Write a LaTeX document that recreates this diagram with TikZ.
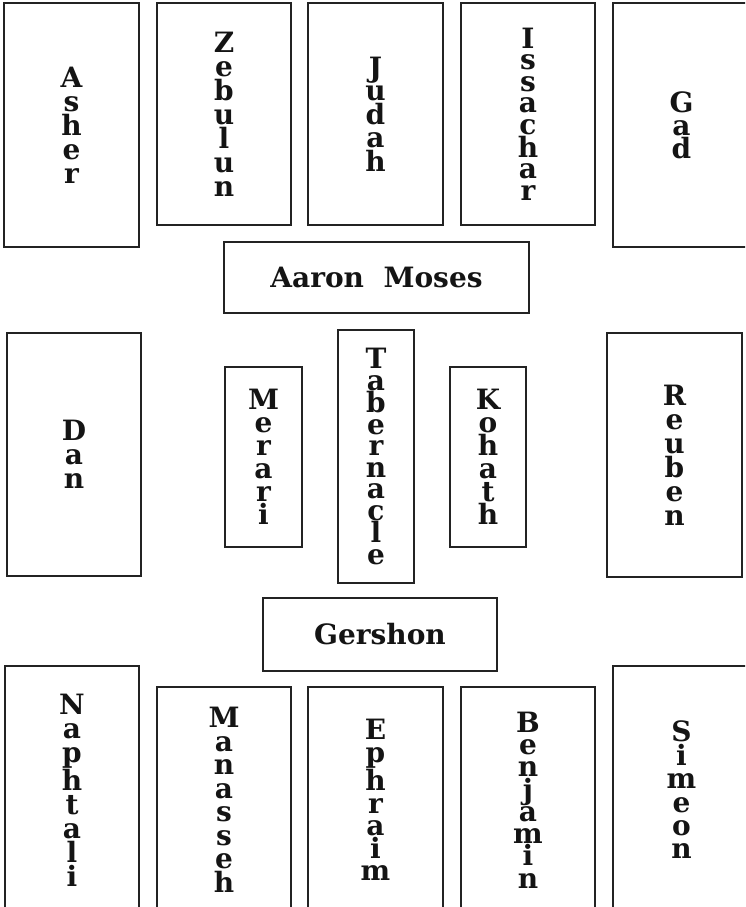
\documentclass[tikz,border=0pt]{standalone}
\usepackage{fontspec}
\setmainfont{DejaVu Serif}
\usetikzlibrary{positioning}
\definecolor{framecolor}{RGB}{35,35,35}
\definecolor{inkcolor}{RGB}{20,20,20}
\tikzset{
  camp/.style  = {draw=framecolor, line width=2.5pt, rectangle, align=center,
                  inner sep=0pt, text=inkcolor},
  letters/.style = {font=\fontsize{28}{#1}\selectfont\bfseries},
  letters/.default = 23.5,
}

\begin{document}
\begin{tikzpicture}[x=1pt, y=-1pt]
  \useasboundingbox (0,0) rectangle (745,907);
  \clip (0,0) rectangle (745,907);

  % the twelve tribes, one box each
  \foreach \n/\x/\y/\w/\h/\s/\t in {
      asher/71.5/125/135/244/24/{A\\s\\h\\e\\r},
      zebulun/224/114/134/222/24/{Z\\e\\b\\u\\l\\u\\n},
      judah/375.5/114/135/222/23.5/{J\\u\\d\\a\\h},
      issachar/528/114/134/222/21.6/{I\\s\\s\\a\\c\\h\\a\\r},
      gad/681.5/125/137/244/23/{G\\a\\d},
      dan/74/454.5/134/243/24/{D\\a\\n},
      reuben/674.5/455/135/244/24/{R\\e\\u\\b\\e\\n},
      naphtali/72/790/134/248/24/{N\\a\\p\\h\\t\\a\\l\\i},
      manasseh/224/800/134/226/23.5/{M\\a\\n\\a\\s\\s\\e\\h},
      ephraim/375.5/800/135/226/22.5/{E\\p\\h\\r\\a\\i\\m},
      benjamin/528/800/134/226/22.3/{B\\e\\n\\j\\a\\m\\i\\n},
      simeon/681.5/790/137/248/23.4/{S\\i\\m\\e\\o\\n}} {
    \node[camp, letters=\s, minimum width=\w pt, minimum height=\h pt] (\n) at (\x,\y) {\t};
  }

  % levites round the tabernacle
  \node[camp, letters=21.5, minimum width=76pt, minimum height=253pt] (tabernacle) at (376,456.5)
    {T\\a\\b\\e\\r\\n\\a\\c\\l\\e};
  \node[camp, letters=23, minimum width=77pt, minimum height=180pt] (merari) at (263.5,457)
    {M\\e\\r\\a\\r\\i};
  \node[camp, letters=23, minimum width=76pt, minimum height=180pt] (kohath) at (488,457)
    {K\\o\\h\\a\\t\\h};
  \node[camp, letters, minimum width=305pt, minimum height=71pt] (aaronmoses) at (376.5,277.5)
    {Aaron~~Moses};
  \node[camp, letters, minimum width=234pt, minimum height=73pt] (gershon) at (380,634.5)
    {Gershon};

\end{tikzpicture}
\end{document}
